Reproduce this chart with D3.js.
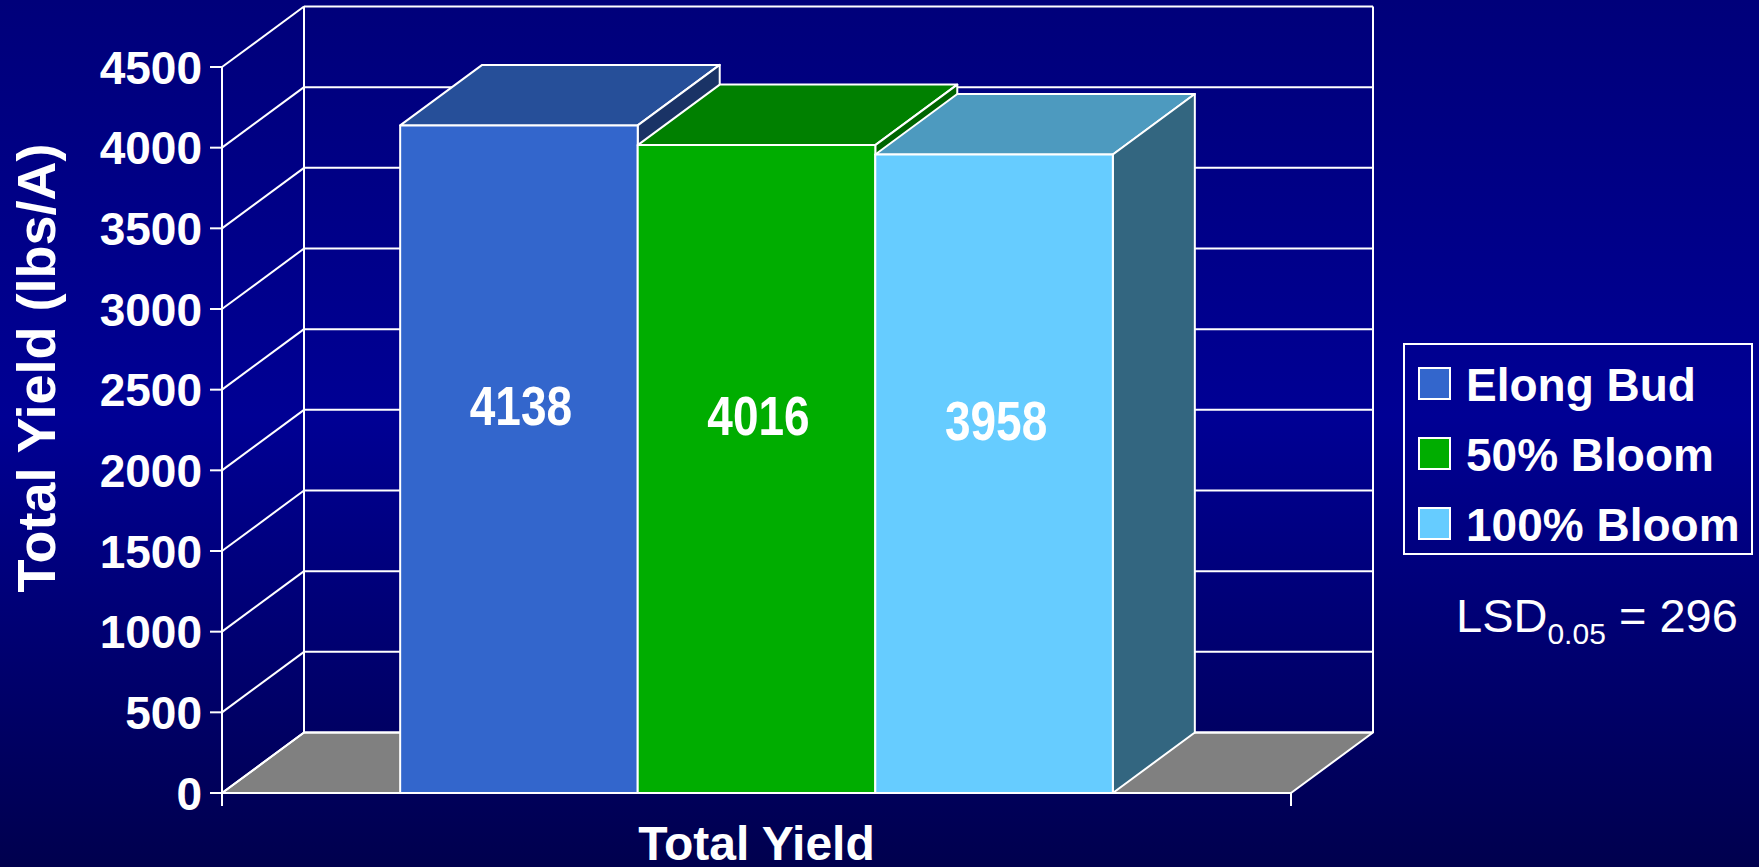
<!DOCTYPE html>
<html>
<head>
<meta charset="utf-8">
<script src="https://cdn.jsdelivr.net/npm/d3@7"></script>
<style>
  html, body { margin: 0; padding: 0; background: #000060; }
  svg { display: block; font-family: "Liberation Sans", Arial, sans-serif; }
</style>
</head>
<body>
<svg id="chart"></svg>
<script>
const categories = ["Total Yield"];
const series = ["Elong Bud", "50% Bloom", "100% Bloom"];
const values = [4138, 4016, 3958];
const yTicks = [0, 500, 1000, 1500, 2000, 2500, 3000, 3500, 4000, 4500];
const frontColors = ["#3366cc", "#00ad00", "#66ccff"];
const topColors = ["#264f99", "#008000", "#4d9abf"];
const sideColors = ["#1a3366", "#006400", "#336680"];
const lsdText = ["LSD", "0.05", " = 296"];

const W = 1759, H = 867;
const DX = 82, DY = -60.5;   // depth offset of the 3d box
const WHITE = "#ffffff";

function set_size(selector, width, height){
  return selector.attr("width", width).attr("height", height);
}
function pts(arr){
  return arr.map(p => p.join(",")).join(" ");
}

const svg = d3.select("#chart").call(set_size, W, H);

const grad = svg.append("defs").append("linearGradient")
  .attr("id", "bg").attr("x1", 0).attr("y1", 0).attr("x2", 0).attr("y2", 1);
grad.append("stop").attr("offset", "0%").attr("stop-color", "#00007a");
grad.append("stop").attr("offset", "48%").attr("stop-color", "#000094");
grad.append("stop").attr("offset", "100%").attr("stop-color", "#00004e");

svg.append("rect").call(set_size, W, H).attr("fill", "url(#bg)");

const y = d3.scaleLinear().domain([0, 4500]).range([793, 67]);
const x = d3.scaleBand().domain(categories).range([222, 1291]);
const xs = d3.scaleBand().domain(series)
  .range([x(categories[0]) + x.bandwidth() / 6, x(categories[0]) + x.bandwidth() * 5 / 6]);

const X0 = x.range()[0], X1 = x.range()[1];
const Y0 = y(0);

// floor
svg.append("polygon")
  .attr("points", pts([[X0, Y0], [X1, Y0], [X1 + DX, Y0 + DY], [X0 + DX, Y0 + DY]]))
  .attr("fill", "#808080").attr("stroke", WHITE).attr("stroke-width", 2)
  .attr("stroke-linejoin", "round");

// walls and gridlines
const grid = svg.append("g").attr("stroke", WHITE).attr("stroke-width", 2).attr("fill", "none");
grid.selectAll("line.back")
  .data(yTicks)
  .enter().append("line")
    .attr("x1", X0 + DX).attr("x2", X1 + DX)
    .attr("y1", d => y(d) + DY).attr("y2", d => y(d) + DY);
grid.selectAll("line.side")
  .data(yTicks)
  .enter().append("line")
    .attr("x1", X0).attr("x2", X0 + DX)
    .attr("y1", d => y(d)).attr("y2", d => y(d) + DY);
grid.append("line")
  .attr("x1", X0 + DX).attr("x2", X0 + DX)
  .attr("y1", y(4500) + DY).attr("y2", Y0 + DY);
grid.append("line")
  .attr("x1", X1 + DX).attr("x2", X1 + DX)
  .attr("y1", y(4500) + DY).attr("y2", Y0 + DY);

// front axes
const axes = svg.append("g").attr("stroke", WHITE).attr("stroke-width", 2);
axes.append("line").attr("x1", X0).attr("x2", X0).attr("y1", y(4500)).attr("y2", Y0 + 13);
axes.append("line").attr("x1", X0).attr("x2", X1).attr("y1", Y0).attr("y2", Y0);
axes.append("line").attr("x1", X1).attr("x2", X1).attr("y1", Y0).attr("y2", Y0 + 13);
axes.selectAll("line.tick")
  .data(yTicks)
  .enter().append("line")
    .attr("x1", X0 - 12).attr("x2", X0)
    .attr("y1", d => y(d)).attr("y2", d => y(d));

svg.append("g")
  .selectAll("text")
  .data(yTicks)
  .enter().append("text")
    .attr("x", 202)
    .attr("y", d => y(d) + 16.5)
    .attr("text-anchor", "end")
    .attr("fill", WHITE).attr("font-size", 46).attr("font-weight", "bold")
    .text(d => d);

// bars, left to right so each one covers the side of the previous
const bars = svg.append("g")
  .selectAll("g.bar")
  .data(values)
  .enter().append("g")
    .attr("class", "bar");

bars.each(function(v, i){
  const g = d3.select(this);
  const bx0 = xs(series[i]), bx1 = bx0 + xs.bandwidth();
  const yv = y(v);
  g.append("polygon")
    .attr("points", pts([[bx0, yv], [bx1, yv], [bx1 + DX, yv + DY], [bx0 + DX, yv + DY]]))
    .attr("fill", topColors[i]);
  g.append("polygon")
    .attr("points", pts([[bx1, yv], [bx1 + DX, yv + DY], [bx1 + DX, Y0 + DY], [bx1, Y0]]))
    .attr("fill", sideColors[i]);
  g.append("rect")
    .attr("x", bx0).attr("y", yv)
    .call(set_size, bx1 - bx0, Y0 - yv)
    .attr("fill", frontColors[i]);
  g.selectAll("polygon, rect")
    .attr("stroke", WHITE).attr("stroke-width", 2).attr("stroke-linejoin", "round");
});

bars.append("text")
  .attr("transform", (v, i) =>
    "translate(" + [xs(series[i]) + xs.bandwidth() / 2 + 2, y(v / 2) - 34] + ") scale(1,1.2)")
  .attr("text-anchor", "middle")
  .attr("fill", WHITE).attr("font-size", 46).attr("font-weight", "bold")
  .text(v => v);

// axis titles
svg.append("text")
  .attr("transform", "translate(55," + 368 + ") rotate(-90)")
  .attr("text-anchor", "middle")
  .attr("fill", WHITE).attr("font-size", 54).attr("font-weight", "bold")
  .text("Total Yield (lbs/A)");

svg.append("text")
  .attr("x", (X0 + X1) / 2).attr("y", 860)
  .attr("text-anchor", "middle")
  .attr("fill", WHITE).attr("font-size", 48).attr("font-weight", "bold")
  .text(categories[0]);

// legend
const legend = svg.append("g").attr("transform", "translate(1404,344)");
legend.append("rect")
  .call(set_size, 348, 210)
  .attr("fill", "none").attr("stroke", WHITE).attr("stroke-width", 2);
const item = legend.selectAll("g.item")
  .data(series)
  .enter().append("g")
    .attr("transform", (d, i) => "translate(15," + (24 + i * 70) + ")");
item.append("rect")
  .call(set_size, 31, 31)
  .attr("fill", (d, i) => frontColors[i])
  .attr("stroke", WHITE).attr("stroke-width", 2);
item.append("text")
  .attr("x", 47).attr("y", 33)
  .attr("fill", WHITE).attr("font-size", 46).attr("font-weight", "bold")
  .text(d => d);

// LSD note
const lsd = svg.append("text")
  .attr("x", 1456).attr("y", 632)
  .attr("fill", WHITE).attr("font-size", 47);
lsd.append("tspan").text(lsdText[0]);
lsd.append("tspan").attr("font-size", 30).attr("dy", 12).text(lsdText[1]);
lsd.append("tspan").attr("dy", -12).text(lsdText[2]);
</script>
</body>
</html>
